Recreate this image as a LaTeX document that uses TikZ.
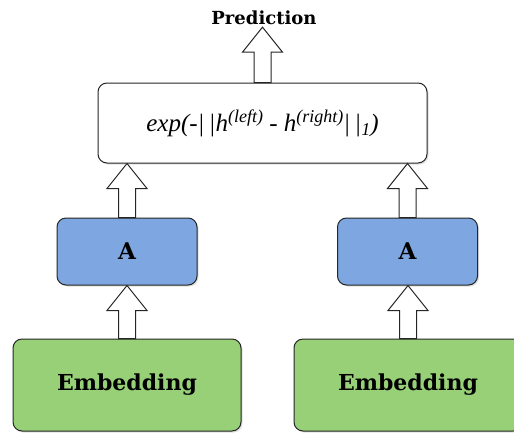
\documentclass[tikz,border=0pt]{standalone}
\usepackage{fontspec}
\setmainfont{DejaVu Serif}
\newfontfamily\formulafont{Liberation Serif}
\usepackage{tikz}
\usetikzlibrary{calc}
\usetikzlibrary{shadows}
\definecolor{encblue}{HTML}{7EA6E0}
\definecolor{embgreen}{HTML}{97D077}
\tikzset{
	basestyle/.style={rectangle,rounded corners=9pt,draw=black!85,line width=1pt,inner sep=0pt,drop shadow={opacity=0.25,shadow xshift=1.5pt,shadow yshift=-1.5pt}},
	mergestyle/.style={basestyle,fill=white,minimum width=329pt,minimum height=80pt,font=\formulafont\itshape\fontsize{25}{28}\selectfont},
	encstyle/.style={basestyle,fill=encblue,minimum width=140pt,minimum height=67pt,font=\bfseries\fontsize{23}{26}\selectfont},
	embstyle/.style={basestyle,fill=embgreen,minimum width=228pt,minimum height=92pt,font=\bfseries\fontsize{22}{26}\selectfont},
	labelstyle/.style={inner sep=2pt,font=\bfseries\fontsize{18}{20}\selectfont},
	fatarrow/.style={draw=black!85,fill=white,line width=1pt}
}
\newcommand{\hollowarrow}[2]{%
	\draw[fatarrow] let \p1=(#1), \p2=(#2) in
		(\x1-8.5pt,\y1) -- (\x1-8.5pt,\y2-25pt) -- (\x1-20pt,\y2-25pt) -- (\x1,\y2)
		-- (\x1+20pt,\y2-25pt) -- (\x1+8.5pt,\y2-25pt) -- (\x1+8.5pt,\y1) -- cycle;}
\newcommand{\supx}[1]{\raisebox{9pt}{\fontsize{18}{18}\selectfont #1}}
\newcommand{\subx}[1]{\raisebox{-4pt}{\fontsize{18}{18}\selectfont #1}}

\begin{document}
\begin{tikzpicture}[x=1pt,y=-1pt]
		\useasboundingbox (0,0) rectangle (514,432);
		\node[labelstyle] (pred) at (264,18) {Prediction};
		\node[mergestyle] (merge) at (262.5,123) {exp(-|\,|h\supx{(left)} - h\supx{(right)}|\,|\subx{1})};
		\node[encstyle] (encl) at (127,251.5) {A};
		\node[encstyle] (encr) at (407.5,251.5) {A};
		\node[embstyle] (embl) at (127,385) {Embedding};
		\node[embstyle] (embr) at (408,385) {Embedding};
		\hollowarrow{embl.north}{encl.south}
		\hollowarrow{embr.north}{encr.south}
		\hollowarrow{encl.north}{merge.south -| encl.north}
		\hollowarrow{encr.north}{merge.south -| encr.north}
		\hollowarrow{merge.north}{pred.south}
\end{tikzpicture}
\end{document}
